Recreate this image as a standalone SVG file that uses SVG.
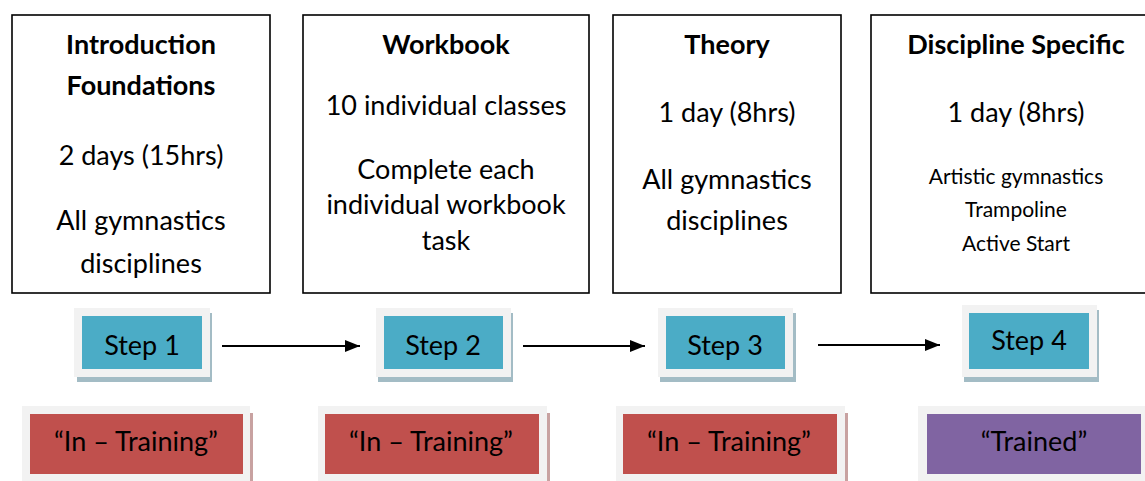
<svg xmlns="http://www.w3.org/2000/svg" width="1145" height="481" viewBox="0 0 1145 481">
<defs>
<style>
text{font-family:Lato,"Open Sans","Liberation Sans",sans-serif;fill:#000;text-anchor:middle}
.t{font-size:27px;font-weight:bold}
.b{font-size:27px}
.s{font-size:21px}
.card{fill:#fff;stroke:#000;stroke-width:1.6}
.frame{fill:#F2F2F2}
.shadow{fill:#A3BCC5}
.teal{fill:#4BACC6}
.red{fill:#C0504D}
.purple{fill:#8064A2}
.rshadow{fill:#C8A2A1}
.conn{stroke:#000;stroke-width:2;fill:none}
</style>
<marker id="ah" viewBox="0 0 15 12" refX="15" refY="6" markerWidth="15" markerHeight="12" markerUnits="userSpaceOnUse" orient="auto"><path d="M0,0 L15,6 L0,12 z" fill="#000"/></marker>
</defs>
<rect width="1145" height="481" fill="#fff"/>

<g id="card1">
<rect class="card" x="12" y="15" width="258" height="278"/>
<text class="t" x="141" y="54">Introduction</text>
<text class="t" x="141" y="95">Foundations</text>
<text class="b" x="141" y="165">2 days (15hrs)</text>
<text class="b" x="141" y="230">All gymnastics</text>
<text class="b" x="141" y="273">disciplines</text>
</g>
<g id="card2">
<rect class="card" x="303" y="15" width="286" height="278"/>
<text class="t" x="446" y="54">Workbook</text>
<text class="b" x="446" y="115">10 individual classes</text>
<text class="b" x="446" y="179">Complete each</text>
<text class="b" x="446" y="214">individual workbook</text>
<text class="b" x="446" y="250">task</text>
</g>
<g id="card3">
<rect class="card" x="613" y="15" width="228" height="278"/>
<text class="t" x="727" y="54">Theory</text>
<text class="b" x="727" y="122">1 day (8hrs)</text>
<text class="b" x="727" y="189">All gymnastics</text>
<text class="b" x="727" y="230">disciplines</text>
</g>
<g id="card4">
<rect class="card" x="871" y="15" width="290" height="278"/>
<text class="t" x="1016" y="54">Discipline Specific</text>
<text class="b" x="1016" y="122">1 day (8hrs)</text>
<text class="s" x="1016" y="184">Artistic gymnastics</text>
<text class="s" x="1016" y="217">Trampoline</text>
<text class="s" x="1016" y="251">Active Start</text>
</g>

<g id="step1">
<rect class="shadow" x="77" y="313" width="135" height="69"/>
<rect class="frame" x="74" y="308" width="136" height="69"/>
<rect class="teal" x="82" y="316" width="120" height="53"/>
<text class="b" x="142" y="355">Step 1</text>
</g>
<g id="step2">
<rect class="shadow" x="378" y="313" width="135" height="69"/>
<rect class="frame" x="376" y="308" width="135" height="69"/>
<rect class="teal" x="384" y="316" width="119" height="53"/>
<text class="b" x="443" y="355">Step 2</text>
</g>
<g id="step3">
<rect class="shadow" x="660" y="313" width="136" height="69"/>
<rect class="frame" x="658" y="308" width="135" height="69"/>
<rect class="teal" x="666" y="316" width="119" height="53"/>
<text class="b" x="725" y="355">Step 3</text>
</g>
<g id="step4">
<rect class="shadow" x="964" y="310" width="135" height="72"/>
<rect class="frame" x="962" y="305" width="135" height="72"/>
<rect class="teal" x="969" y="313" width="120" height="56"/>
<text class="b" x="1029" y="350">Step 4</text>
</g>

<g id="status1">
<rect class="rshadow" x="250" y="413" width="3" height="68"/>
<rect class="frame" x="22" y="406" width="228" height="75"/>
<rect class="red" x="30" y="414" width="213" height="60"/>
<text class="b" x="136" y="451">“In – Training”</text>
</g>
<g id="status2">
<rect class="rshadow" x="547" y="413" width="3" height="68"/>
<rect class="frame" x="318" y="406" width="229" height="75"/>
<rect class="red" x="325" y="414" width="214" height="60"/>
<text class="b" x="431" y="451">“In – Training”</text>
</g>
<g id="status3">
<rect class="rshadow" x="845" y="413" width="3" height="68"/>
<rect class="frame" x="616" y="406" width="229" height="75"/>
<rect class="red" x="623" y="414" width="214" height="60"/>
<text class="b" x="729" y="451">“In – Training”</text>
</g>
<g id="status4">
<rect class="frame" x="918" y="406" width="230" height="76"/>
<rect class="purple" x="927" y="414" width="214" height="60"/>
<text class="b" x="1034" y="451">“Trained”</text>
</g>

<g id="connectors">
<line class="conn" x1="222" y1="346" x2="360" y2="346" marker-end="url(#ah)"/>
<line class="conn" x1="523" y1="346" x2="645" y2="346" marker-end="url(#ah)"/>
<line class="conn" x1="818" y1="345" x2="940" y2="345" marker-end="url(#ah)"/>
</g>
</svg>
